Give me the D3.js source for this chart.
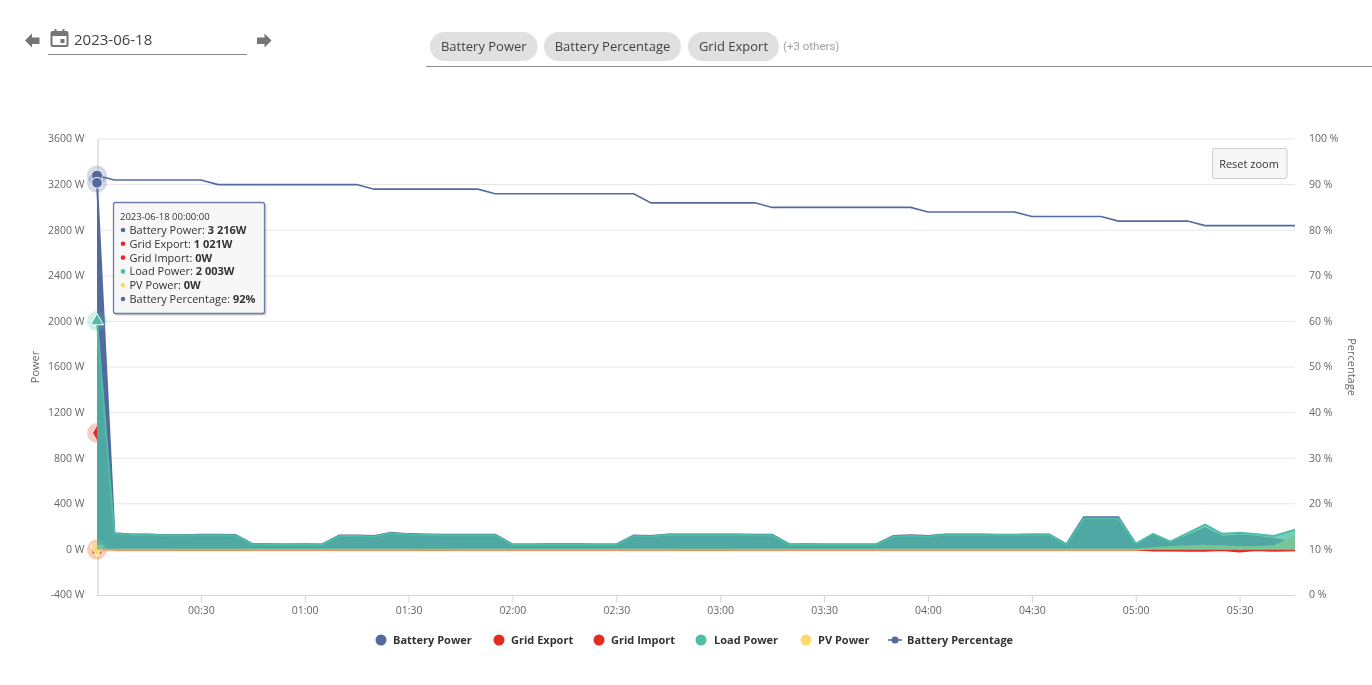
<!DOCTYPE html>
<html>
<head>
<meta charset="utf-8">
<script src="https://cdn.jsdelivr.net/npm/d3@7"></script>
<style>
  html, body { margin: 0; padding: 0; background: #fff; overflow: hidden; }
  svg { will-change: transform; }
  svg text { font-family: "Open Sans", sans-serif; }
</style>
</head>
<body>
<div id="chart"></div>
<script>
// time of each reading
const times = ["00:00","00:05","00:10","00:15","00:20","00:25","00:30","00:35","00:40","00:45","00:50","00:55",
  "01:00","01:05","01:10","01:15","01:20","01:25","01:30","01:35","01:40","01:45","01:50","01:55",
  "02:00","02:05","02:10","02:15","02:20","02:25","02:30","02:35","02:40","02:45","02:50","02:55",
  "03:00","03:05","03:10","03:15","03:20","03:25","03:30","03:35","03:40","03:45","03:50","03:55",
  "04:00","04:05","04:10","04:15","04:20","04:25","04:30","04:35","04:40","04:45","04:50","04:55",
  "05:00","05:05","05:10","05:15","05:20","05:25","05:30","05:35","05:40","05:46"];

const loadPower = [2003,138,128,128,122,122,125,125,123,45,44,42,44,41,118,118,114,142,130,128,125,125,125,125,
  42,42,44,43,44,42,42,118,114,128,128,128,128,128,125,125,42,43,42,42,42,42,114,118,
  114,128,128,128,126,126,128,128,42,270,270,270,48,137,67,142,217,137,147,132,117,172];
const batteryPower = [3216,142,131,131,125,125,128,128,126,47,46,44,46,43,122,122,118,146,134,131,128,128,128,128,
  44,44,46,45,46,44,44,122,118,131,131,131,131,131,129,129,44,45,44,44,44,44,118,124,
  118,131,131,131,129,129,131,131,44,283,283,283,46,125,52,118,185,112,125,112,92,60];
const gridExport = [1021,0,0,0,0,-2,-3,-2,-2,0,0,0,0,0,0,0,0,0,0,-2,-2,0,0,0,
  0,0,0,0,0,0,0,0,0,0,-2,-2,-2,0,0,0,0,0,0,0,0,0,0,0,
  0,0,0,0,0,0,0,0,0,0,0,0,0,-10,-10,-12,-12,-5,-18,-5,-12,-8];
const gridImport = [0,0,0,0,0,0,0,0,0,0,0,0,0,0,0,0,0,0,0,0,0,0,0,0,
  0,0,0,0,0,0,0,0,0,0,0,0,0,0,0,0,0,0,0,0,0,0,0,0,
  0,0,0,0,0,0,0,0,0,0,0,0,0,0,0,0,0,0,0,0,0,0];
const pvPower = [0,0,0,0,0,0,0,0,0,0,0,0,0,0,0,0,0,0,0,0,0,0,0,0,
  0,0,0,0,0,0,0,0,0,0,0,0,0,0,0,0,0,0,0,0,0,0,0,0,
  0,0,0,0,0,0,0,0,0,0,0,0,0,12,20,28,32,28,22,22,28,118];
const batteryPercentage = [92,91,91,91,91,91,91,90,90,90,90,90,90,90,90,90,89,89,89,89,89,89,89,88,
  88,88,88,88,88,88,88,88,86,86,86,86,86,86,86,85,85,85,85,85,85,85,85,85,
  84,84,84,84,84,84,83,83,83,83,83,82,82,82,82,82,81,81,81,81,81,81];

const leftTicks = [-400,0,400,800,1200,1600,2000,2400,2800,3200,3600];
const rightTicks = [0,10,20,30,40,50,60,70,80,90,100];
const timeTicks = ["00:30","01:00","01:30","02:00","02:30","03:00","03:30","04:00","04:30","05:00","05:30"];

const seriesNames = ["Battery Power","Grid Export","Grid Import","Load Power","PV Power","Battery Percentage"];
const seriesColors = ["#546a9f","#e32b22","#e32b22","#4dbda6","#fbd96c","#546a9f"];
const chipLabels = ["Battery Power","Battery Percentage","Grid Export"];

const parseT = d3.utcParse("%H:%M");
const svg = d3.select("#chart").append("svg").attr("width", 1372).attr("height", 685);

const m = { left: 97, right: 1295, top: 139, bottom: 595 };
const x = d3.scaleUtc().domain([parseT("00:00"), parseT("05:46")]).range([m.left, m.right]);
const yL = d3.scaleLinear().domain([-400, 3600]).range([m.bottom, m.top]);
const yR = d3.scaleLinear().domain([0, 100]).range([m.bottom, m.top]);

// grid
svg.append("g").selectAll("line").data(leftTicks.slice(1)).enter().append("line")
  .attr("x1", m.left).attr("x2", m.right)
  .attr("y1", d => yL(d)).attr("y2", d => yL(d))
  .attr("stroke", "#e6e6e6");

// axes
const axisX = svg.append("g").attr("transform", `translate(0,${m.bottom + 0.5})`)
  .call(d3.axisBottom(x).tickValues(timeTicks.map(parseT)).tickFormat(d3.utcFormat("%H:%M")).tickSize(7).tickPadding(4));
axisX.select(".domain").attr("stroke", "#ccd6eb").attr("d", `M${m.left},0H${m.right}`);
axisX.selectAll("line").attr("stroke", "#ccd6eb");
axisX.selectAll("text").attr("fill", "#666").style("font-size", "10.5px");

const axisL = svg.append("g").attr("transform", `translate(${m.left + 0.5},-0.5)`)
  .call(d3.axisLeft(yL).tickValues(leftTicks).tickFormat(d => d + " W").tickSize(0).tickPadding(13));
axisL.select(".domain").attr("stroke", "#ccc").attr("transform", "translate(0,0.5)");
axisL.selectAll("text").attr("fill", "#666").style("font-size", "10.5px");

const axisR = svg.append("g").attr("transform", `translate(${m.right},-0.5)`)
  .call(d3.axisRight(yR).tickValues(rightTicks).tickFormat(d => d + " %").tickSize(0).tickPadding(14));
axisR.select(".domain").remove();
axisR.selectAll("text").attr("fill", "#666").style("font-size", "10.5px");

svg.append("text").attr("transform", "translate(39,367) rotate(-90)").attr("text-anchor", "middle")
  .attr("fill", "#666").style("font-size", "11px").text("Power");
svg.append("text").attr("transform", "translate(1348,367) rotate(90)").attr("text-anchor", "middle")
  .attr("fill", "#666").style("font-size", "11px").text("Percentage");

// battery percentage goes under the areas
const pctLine = d3.line().x((d, i) => x(parseT(times[i]))).y(d => yR(d));
svg.append("path").attr("d", pctLine(batteryPercentage)).attr("fill", "none")
  .attr("stroke", seriesColors[5]).attr("stroke-width", 1.6);
svg.append("circle").attr("cx", x(parseT(times[0]))).attr("cy", yR(batteryPercentage[0])).attr("r", 10)
  .attr("fill", seriesColors[5]).attr("fill-opacity", 0.25);
svg.append("circle").attr("cx", x(parseT(times[0]))).attr("cy", yR(batteryPercentage[0])).attr("r", 5.5)
  .attr("fill", seriesColors[5]).attr("stroke", "#fff");

// areas. battery is opaque and hides the grid series, load is see through
const area = d3.area().x((d, i) => x(parseT(times[i]))).y0(yL(0)).y1(d => yL(d));
const line = d3.line().x((d, i) => x(parseT(times[i]))).y(d => yL(d));
const drawOrder = [
  { vals: gridExport, k: 1, sym: d3.symbolDiamond, size: 70, fill: 0.75 },
  { vals: gridImport, k: 2, sym: d3.symbolSquare, size: 100, fill: 0.75 },
  { vals: batteryPower, k: 0, sym: d3.symbolCircle, size: 90, fill: 1 },
  { vals: pvPower, k: 4, sym: d3.symbolTriangle, size: 70, fill: 1, flip: true, markerOnTop: true },
  { vals: loadPower, k: 3, sym: d3.symbolTriangle, size: 70, fill: 0.75 }
];
function marker(g, s) {
  const px = x(parseT(times[0])), py = yL(s.vals[0]);
  g.append("path").attr("d", d3.symbol().type(s.sym).size(s.size)())
    .attr("transform", `translate(${px},${py})` + (s.flip ? " rotate(180)" : ""))
    .attr("fill", seriesColors[s.k]).attr("stroke", "#fff").attr("stroke-width", 0.8);
}
drawOrder.forEach(s => {
  const g = svg.append("g");
  g.append("circle").attr("cx", x(parseT(times[0]))).attr("cy", yL(s.vals[0])).attr("r", 10)
    .attr("fill", seriesColors[s.k]).attr("fill-opacity", 0.25);
  if (!s.markerOnTop) marker(g, s);
  g.append("path").attr("d", area(s.vals)).attr("fill", seriesColors[s.k]).attr("fill-opacity", s.fill);
  g.append("path").attr("d", line(s.vals)).attr("fill", "none").attr("stroke", seriesColors[s.k]).attr("stroke-width", 2)
    .attr("stroke-opacity", s.k === 4 ? 0.8 : 1);
  if (s.markerOnTop) marker(g, s);
});

// load and battery markers sit on top of the areas
const markersAbove = svg.append("g");
marker(markersAbove, drawOrder[2]);
marker(markersAbove, drawOrder[4]);

// legend
const legendX = [381, 499, 599, 701, 806, 895];
const legendTextX = [393, 511, 611, 714, 818, 907];
const legend = svg.append("g");
seriesNames.forEach((n, i) => {
  if (i < 5) {
    legend.append("circle").attr("cx", legendX[i]).attr("cy", 640).attr("r", 5.5).attr("fill", seriesColors[i]);
  } else {
    legend.append("line").attr("x1", legendX[i] - 7).attr("x2", legendX[i] + 7).attr("y1", 640).attr("y2", 640)
      .attr("stroke", seriesColors[i]).attr("stroke-width", 1.6);
    legend.append("circle").attr("cx", legendX[i]).attr("cy", 640).attr("r", 3.5).attr("fill", seriesColors[i]);
  }
  legend.append("text").attr("x", legendTextX[i]).attr("y", 644).attr("fill", "#333")
    .style("font-size", "11px").style("font-weight", 700).text(n);
});

// tooltip
const tip = svg.append("g").attr("transform", "translate(113,202)");
tip.append("rect").attr("x", 1.5).attr("y", 1.5).attr("width", 152).attr("height", 112).attr("rx", 2)
  .attr("fill", "#000").attr("fill-opacity", 0.18);
tip.append("rect").attr("x", 0.5).attr("y", 0.5).attr("width", 151).attr("height", 111).attr("rx", 2)
  .attr("fill", "#f7f7f7").attr("stroke", "#6c7cab").attr("stroke-width", 1.3);
tip.append("text").attr("x", 7).attr("y", 18).attr("fill", "#333").style("font-size", "9.5px").text("2023-06-18 00:00:00");
const tipValues = ["3 216W","1 021W","0W","2 003W","0W","92%"];
seriesNames.forEach((n, i) => {
  const ty = 32 + i * 13.8;
  tip.append("circle").attr("cx", 10).attr("cy", ty - 4).attr("r", 2.3).attr("fill", seriesColors[i]);
  const t = tip.append("text").attr("x", 16.5).attr("y", ty).attr("fill", "#333").style("font-size", "11px");
  t.append("tspan").text(n + ": ");
  t.append("tspan").style("font-weight", 700).text(tipValues[i]);
});

// reset zoom button
const btn = svg.append("g").attr("transform", "translate(1212,148)");
btn.append("rect").attr("x", 0.5).attr("y", 0.5).attr("width", 74.5).attr("height", 30).attr("rx", 2)
  .attr("fill", "#f7f7f7").attr("stroke", "#ccc");
btn.append("text").attr("x", 37).attr("y", 19.5).attr("text-anchor", "middle").attr("fill", "#333")
  .style("font-size", "11px").text("Reset zoom");

// date picker
const head = svg.append("g");
head.append("path").attr("d", "M25,40.5 L32,33.5 V37.5 H39.5 V44 H32 V47.5 Z").attr("fill", "#757575");
head.append("path").attr("d", "M271.5,40.5 L264.5,33.5 V37.5 H257 V44 H264.5 V47.5 Z").attr("fill", "#757575");
head.append("path").attr("fill", "#757575").attr("fill-rule", "evenodd")
  .attr("d", "M54.5,29h2v2h6v-2h2v2h2a2,2 0 0 1 2,2v12a2,2 0 0 1 -2,2h-14a2,2 0 0 1 -2,-2v-12a2,2 0 0 1 2,-2h2z M52.5,36v9h14v-9z M60.5,39h4v4h-4z");
head.append("text").attr("x", 74).attr("y", 45).attr("fill", "#424242").style("font-size", "15px").text("2023-06-18");
head.append("line").attr("x1", 48).attr("x2", 247).attr("y1", 54.5).attr("y2", 54.5).attr("stroke", "#8a8a8a");

// chips
const chipX = [430, 544, 688];
const chipW = [107.5, 137, 91];
chipLabels.forEach((c, i) => {
  head.append("rect").attr("x", chipX[i]).attr("y", 32).attr("width", chipW[i]).attr("height", 29).attr("rx", 14.5).attr("fill", "#e0e0e0");
  head.append("text").attr("x", chipX[i] + chipW[i] / 2).attr("y", 51).attr("text-anchor", "middle")
    .attr("fill", "#424242").style("font-size", "13px").text(c);
});
head.append("text").attr("x", 783).attr("y", 50).attr("fill", "#a0a0a0").style("font-size", "11.5px").style("font-family", "Roboto, sans-serif").text("(+3 others)");
head.append("line").attr("x1", 426).attr("x2", 1372).attr("y1", 66.5).attr("y2", 66.5).attr("stroke", "#8a8a8a");
</script>
</body>
</html>
